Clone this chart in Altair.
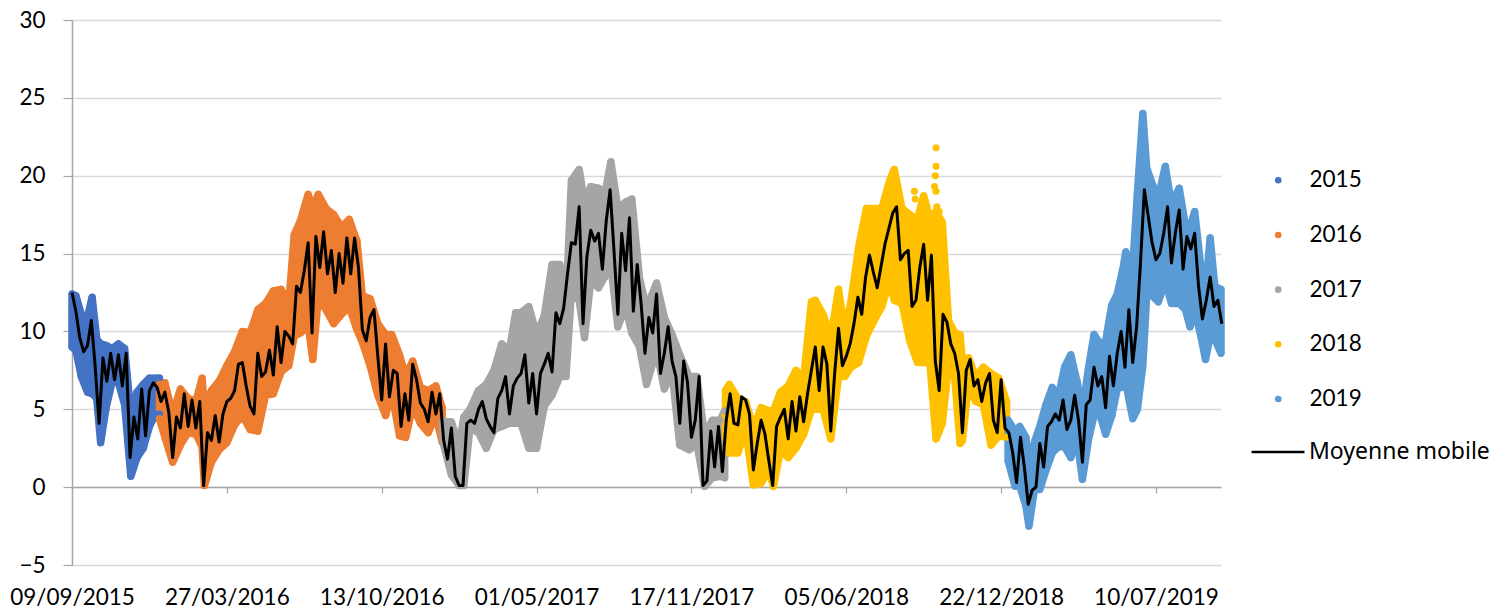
import altair as alt
import pandas as pd

START = pd.Timestamp("2015-09-09")
FONT = "Lato"
TICK_DATES = ["2015-09-09T00:00:00", "2016-03-27T00:00:00", "2016-10-13T00:00:00", "2017-05-01T00:00:00",
              "2017-11-17T00:00:00", "2018-06-05T00:00:00", "2018-12-22T00:00:00", "2019-07-10T00:00:00"]
X_DOMAIN = ["2015-09-09T00:00:00", "2019-10-02T00:00:00"]
YEARS = ["2015", "2016", "2017", "2018", "2019"]
COLORS = ["#4472C4", "#ED7D31", "#A5A5A5", "#FFC000", "#5B9BD5"]

days_2015 = [0, 5, 12, 20, 26, 32, 37, 44, 52, 60, 68, 76, 84, 92, 100, 108, 113]
high_2015 = [12.4, 12.3, 11.1, 10.9, 12.2, 9.5, 9.2, 9.1, 8.9, 9.2, 8.9, 4.7, 6.1, 6.6, 7.0, 7.0, 7.0]
low_2015 = [9.0, 8.8, 7.1, 6.1, 6.0, 5.7, 2.85, 5.1, 6.8, 6.7, 5.3, 0.7, 1.9, 2.5, 3.9, 4.7, 4.7]

days_2016 = [113, 120, 130, 140, 150, 160, 168, 171, 180, 190, 200, 210, 220, 230, 240, 250, 260, 270, 280, 287,
             295, 305, 311, 318, 328, 338, 348, 358, 368, 375, 385, 395, 405, 413, 423, 431, 440, 450, 460, 470, 478]
high_2016 = [6.6, 6.7, 4.7, 6.3, 5.7, 5.5, 7.0, 5.1, 6.2, 6.8, 7.8, 8.7, 10.0, 9.9, 11.4, 11.8, 12.6, 12.7, 11.8, 16.2,
             17.1, 18.8, 17.9, 18.8, 17.9, 17.5, 16.7, 17.2, 15.8, 12.3, 12.1, 10.5, 9.8, 9.8, 8.5, 7.1, 8.1, 6.4, 6.2, 6.5, 5.1]
low_2016 = [4.4, 3.2, 1.6, 2.7, 3.5, 3.4, 2.6, 0.1, 1.6, 2.4, 2.85, 4.0, 4.6, 3.7, 3.6, 5.9, 6.0, 7.4, 7.8, 9.7,
            9.9, 10.4, 8.2, 12.1, 11.4, 10.5, 11.1, 11.6, 10.1, 9.3, 7.8, 5.9, 4.6, 6.1, 3.3, 3.2, 5.2, 4.1, 3.5, 4.6, 2.9]

days_2017 = [479, 490, 500, 506, 514, 525, 535, 545, 555, 565, 573, 580, 590, 600, 610, 620, 630, 638, 645, 655,
             662, 670, 680, 688, 696, 705, 715, 723, 733, 742, 755, 765, 775, 785, 797, 807, 817, 827, 837, 843]
high_2017 = [4.2, 4.2, 2.6, 4.5, 5.0, 6.2, 6.6, 7.5, 9.2, 8.8, 11.2, 11.2, 11.6, 9.8, 11.0, 14.3, 14.3, 11.7, 19.7, 20.4,
             18.3, 19.3, 19.2, 18.8, 20.9, 17.9, 18.3, 18.5, 13.4, 11.5, 13.1, 10.9, 9.8, 8.5, 7.1, 7.1, 3.3, 4.3, 4.3, 4.9]
low_2017 = [2.9, 0.8, 0.1, 0.1, 3.8, 3.5, 2.5, 3.7, 3.9, 4.1, 4.1, 4.1, 2.5, 2.5, 5.2, 5.9, 7.1, 7.1, 12.5, 12.0,
            9.6, 13.3, 12.8, 13.5, 14.2, 10.3, 11.6, 9.9, 9.0, 6.6, 8.8, 6.3, 7.4, 2.7, 2.4, 2.8, 0.05, 0.6, 0.7, 0.6]

days_2018 = [844, 849, 860, 870, 880, 890, 900, 906, 915, 925, 935, 945, 955, 960, 970, 980, 990, 998, 1006, 1016,
             1026, 1036, 1046, 1056, 1062, 1072, 1082, 1092, 1100, 1108, 1116, 1124, 1132, 1140, 1147, 1150, 1158,
             1167, 1177, 1187, 1197, 1207]
high_2018 = [6.2, 6.6, 5.7, 5.5, 3.8, 5.1, 4.9, 4.9, 6.1, 6.5, 7.5, 7.0, 11.9, 12.0, 11.1, 9.6, 12.7, 10.0, 11.9, 15.4,
             17.9, 17.9, 17.9, 19.7, 20.4, 17.9, 17.5, 17.2, 18.7, 17.3, 17.7, 17.0, 10.7, 9.9, 9.8, 8.1, 8.3,
             7.1, 7.7, 7.3, 7.0, 5.5]
low_2018 = [3.3, 2.2, 2.2, 3.7, 0.15, 0.25, 1.1, 0.05, 2.4, 1.9, 2.5, 3.4, 5.0, 5.0, 5.0, 3.1, 7.1, 7.1, 7.7, 8.0,
            9.7, 10.7, 11.6, 13.3, 12.0, 11.8, 9.4, 8.0, 8.0, 8.0, 3.1, 4.1, 7.8, 7.1, 2.8, 3.0, 6.7,
            5.5, 5.3, 2.7, 3.3, 3.2]

days_2019 = [1209, 1218, 1224, 1232, 1236, 1243, 1250, 1258, 1266, 1274, 1282, 1290, 1298, 1305, 1313, 1320, 1328,
             1335, 1343, 1350, 1358, 1361, 1370, 1376, 1383, 1388, 1395, 1403, 1412, 1420, 1430, 1438, 1444, 1450,
             1458, 1464, 1470, 1476, 1484]
high_2019 = [4.3, 3.6, 3.9, 3.2, 1.1, 2.9, 3.9, 5.3, 6.4, 5.8, 7.7, 8.5, 6.8, 4.9, 7.7, 9.8, 9.2,
             9.4, 11.7, 12.4, 14.2, 15.1, 14.1, 18.9, 24.0, 20.5, 19.5, 18.6, 20.6, 18.2, 19.2, 16.8, 16.7, 17.7,
             14.1, 12.6, 16.0, 12.9, 12.7]
low_2019 = [1.7, 0.06, 0.1, -1.2, -2.5, -0.15, -0.15, 1.1, 2.2, 2.6, 2.6, 1.9, 3.1, 0.5, 3.1, 4.6, 4.6,
            3.4, 4.6, 6.3, 6.5, 6.7, 4.4, 5.0, 7.8, 12.3, 12.3, 11.9, 13.2, 11.8, 11.8, 11.4, 10.3, 11.4,
            9.7, 8.2, 9.7, 9.5, 8.6]

# Isolated points standing apart from the 2018 band
outlier_days_2018 = [1116, 1116, 1115, 1114, 1116, 1117, 1088, 1089, 1120]
outlier_vals_2018 = [21.8, 20.6, 20.0, 19.3, 19.0, 18.0, 19.0, 18.5, 17.7]

mean_starts = [0, 120, 480, 845, 1210]
mean_a = [12.5, 11.3, 9.6, 8.7, 9.1, 10.7, 7.7, 4.1, 8.3, 6.8, 8.6, 6.9, 8.5, 6.5, 8.6, 1.9, 4.5, 3.1, 6.3, 3.3, 6.2, 6.7, 6.4, 5.5]
mean_b = [6.1, 4.8, 1.9, 4.5, 3.8, 6.0, 3.9, 5.6, 3.8, 5.5, 0.1, 3.5, 3.0, 4.6, 2.9, 4.7, 5.5, 5.7, 6.2, 7.9, 8.0, 6.5, 5.2, 4.7,
          8.6, 7.1, 7.4, 8.8, 7.2, 10.3, 8.0, 10.0, 9.7, 9.2, 12.9, 12.5, 13.9, 15.7, 9.9, 16.1, 14.1, 16.4, 13.7, 15.2, 12.5, 15.0,
          13.1, 16.0, 13.7, 16.0, 14.1, 10.1, 9.4, 10.9, 11.4, 8.4, 5.6, 9.2, 5.8, 7.5, 7.3, 3.9, 6.0, 4.3, 7.9, 6.9, 5.4, 5.0, 4.2, 6.1, 4.7, 6.0]
mean_c = [3.0, 1.8, 3.8, 0.7, 0.1, 0.1, 4.1, 4.3, 4.1, 5.0, 5.5, 4.4, 3.9, 3.5, 5.7, 6.2, 7.1, 4.7, 6.5, 7.0, 7.3, 8.5, 5.4, 7.3, 4.7, 7.3, 7.9, 8.6, 7.4,
          11.2, 10.5, 11.5, 13.7, 15.7, 15.6, 18.0, 10.5, 14.8, 16.5, 15.8, 16.3, 14.0, 17.1, 19.1, 15.2, 11.1, 16.3, 13.9, 17.3, 11.3, 14.3, 11.8, 8.6, 10.9, 9.9, 12.4, 7.3,
          8.6, 10.3, 8.1, 7.1, 4.1, 8.1, 6.7, 3.2, 4.3, 7.1, 0.1, 0.4, 3.6, 1.3, 3.9, 1.0]
mean_d = [4.3, 6.0, 4.1, 4.0, 5.8, 5.6, 4.7, 1.1, 2.8, 4.3, 3.4, 1.7, 0.1, 3.9, 4.5, 5.0, 3.1, 5.5, 3.6, 5.8, 4.2, 6.0, 7.5, 9.0, 6.2, 9.0, 7.9, 3.6, 7.3, 10.2, 7.8, 8.4,
          9.2, 10.5, 12.2, 11.1, 13.5, 14.9, 13.8, 12.8, 14.2, 15.6, 16.6, 17.6, 18.0, 14.6, 15.0, 15.2, 11.6, 12.0, 14.1, 15.6, 12.0, 14.9, 8.1, 6.2, 11.1, 10.6, 9.2, 8.6, 7.3,
          3.5, 7.5, 8.2, 6.5, 6.9, 5.5, 6.7, 7.3, 4.3, 3.5, 6.9, 3.8]
mean_e = [3.5, 2.2, 0.3, 3.2, 1.3, -1.1, -0.2, 0.0, 2.8, 1.3, 3.9, 4.2, 4.7, 4.3, 5.6, 3.7, 4.3, 5.9, 4.3, 1.6, 5.3, 5.6, 7.7, 6.5, 7.1, 5.1, 8.4, 6.5, 8.6, 10.0, 7.7, 11.4,
          8.0, 10.3, 14.4, 19.1, 17.4, 15.7, 14.6, 15.0, 16.3, 18.0, 14.4, 16.3, 17.8, 14.0, 16.1, 15.3, 16.3, 12.9, 10.8, 12.0, 13.5, 11.6, 12.0, 10.5]
MEAN_STEP = 5


def to_date(d):
    return START + pd.Timedelta(days=d)


bands = [(days_2015, low_2015, high_2015), (days_2016, low_2016, high_2016), (days_2017, low_2017, high_2017),
         (days_2018, low_2018, high_2018), (days_2019, low_2019, high_2019)]

x_scale = alt.Scale(domain=X_DOMAIN)
y_scale = alt.Scale(domain=[-5, 30], nice=False, zero=False)
x_labels = alt.Axis(values=TICK_DATES, format="%d/%m/%Y", title=None, domain=False, ticks=False, grid=False,
                    labelFontSize=22.5, labelFont=FONT, labelColor="#000000", labelPadding=21, labelOverlap=False,
                    labelFlush=False, labelAngle=0, orient="bottom")
x_line = alt.Axis(values=TICK_DATES, format="%d/%m/%Y", title=None, labels=False, domain=True, ticks=True, grid=False,
                  domainColor="#A6A6A6", tickColor="#A6A6A6", tickSize=6, domainWidth=1.5, tickWidth=1.2, offset=-78,
                  orient="bottom")
y_axis = alt.Axis(values=list(range(-5, 31, 5)), title=None, labelFontSize=22.5, labelFont=FONT, labelColor="#000000",
                  labelPadding=18, tickSize=9, tickColor="#A6A6A6", domainColor="#A6A6A6", gridColor="#D9D9D9",
                  domainWidth=1.5, tickWidth=1.2, gridWidth=1.3)

layers = []
for (days, lows, highs), color, year in zip(bands, COLORS, YEARS):
    band_df = pd.DataFrame({"date": [to_date(d) for d in days], "low": lows, "high": highs})
    layers.append(
        alt.Chart(band_df).mark_area(color=color, stroke=color, strokeWidth=7.5, strokeJoin="round").encode(
            x=alt.X("date:T", scale=x_scale, axis=x_labels if year == "2015" else None),
            y=alt.Y("low:Q", scale=y_scale, axis=y_axis),
            y2="high:Q",
        )
    )

rows = []
for (days, lows, highs), year in zip(bands, YEARS):
    for d, lo, hi in zip(days, lows, highs):
        rows.append({"date": to_date(d), "value": lo, "year": year})
        rows.append({"date": to_date(d), "value": hi, "year": year})
for d, v in zip(outlier_days_2018, outlier_vals_2018):
    rows.append({"date": to_date(d), "value": v, "year": "2018"})
points = pd.DataFrame(rows)

point_layer = alt.Chart(points).mark_circle(size=50, opacity=1).encode(
    x=alt.X("date:T", scale=x_scale, axis=None),
    y=alt.Y("value:Q", scale=y_scale, axis=y_axis),
    color=alt.Color("year:N", scale=alt.Scale(domain=YEARS, range=COLORS),
                    legend=alt.Legend(orient="none", legendX=1195, legendY=149, title=None, labelFontSize=22.5,
                                      labelFont=FONT, labelColor="#000000", symbolSize=44, symbolType="circle",
                                      labelOffset=20, rowPadding=31.7, symbolOpacity=1)),
)
layers.append(point_layer)

mean_rows = []
for start, vals in zip(mean_starts, [mean_a, mean_b, mean_c, mean_d, mean_e]):
    for i, v in enumerate(vals):
        mean_rows.append({"date": to_date(start + i * MEAN_STEP), "value": v, "series": "Moyenne mobile"})
mean_df = pd.DataFrame(mean_rows)

mean_layer = alt.Chart(mean_df).mark_line(strokeWidth=3, strokeJoin="round").encode(
    x=alt.X("date:T", scale=x_scale, axis=x_line),
    y=alt.Y("value:Q", scale=y_scale, axis=y_axis),
    stroke=alt.Stroke("series:N", scale=alt.Scale(domain=["Moyenne mobile"], range=["#000000"]),
                      legend=alt.Legend(orient="none", legendX=1178, legendY=404, title=None, labelFontSize=23,
                                        labelFont="Noto Sans", labelColor="#000000", symbolType="stroke", symbolSize=2800,
                                        symbolStrokeWidth=2.6, labelOffset=3, labelLimit=300)),
)
layers.append(mean_layer)

chart = alt.layer(*layers).resolve_axis(x="independent", y="shared").resolve_legend(color="independent", stroke="independent").properties(
    width=1149, height=545,
    padding={"left": 64, "top": 12, "right": 279, "bottom": 43},
    autosize=alt.AutoSizeParams(type="none"),
    background="#FFFFFF",
).configure_view(stroke=None)

chart.save("out.html", embed_options={"renderer": "svg", "actions": False})
